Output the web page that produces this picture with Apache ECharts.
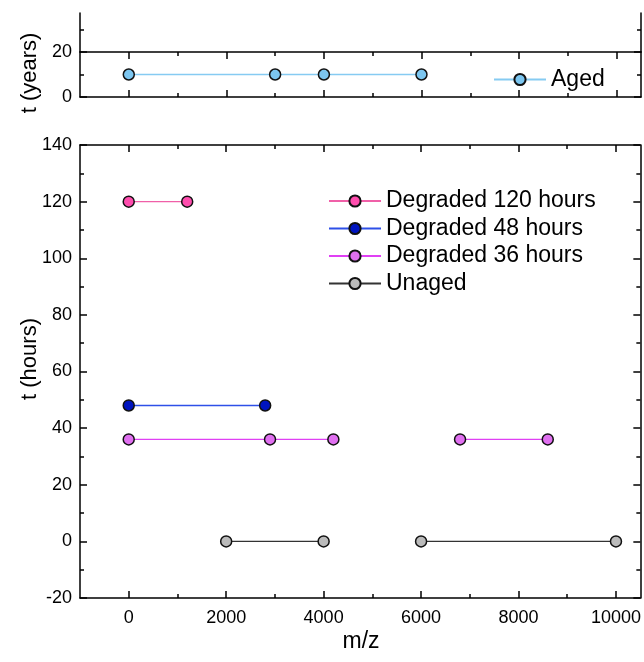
<!DOCTYPE html>
<html>
<head>
<meta charset="utf-8">
<script src="https://cdn.jsdelivr.net/npm/echarts@6/dist/echarts.min.js"></script>
<style>html,body{margin:0;padding:0;background:#fff}#c{width:644px;height:662px}</style>
</head>
<body>
<div id="c"></div>
<script>
// ---- data ----
const xMajorTicks = [0, 2000, 4000, 6000, 8000, 10000];
const xMinorTicks = [1000, 3000, 5000, 7000, 9000];
const agedX = [0, 3000, 4000, 6000];
const agedY = 10;
const deg120X = [0, 1200];
const deg120Y = 120;
const deg48X = [0, 2800];
const deg48Y = 48;
const deg36X = [0, 2900, 4200, null, 6800, 8600];
const deg36Y = 36;
const unagedX = [2000, 4000, null, 6000, 10000];
const unagedY = 0;

const FONT = 'Liberation Sans';
function pts(xs, y) { return xs.map(x => x === null ? ['-', '-'] : [x, y]); }

const axisLine = { show: true, onZero: false, lineStyle: { color: '#000', width: 1.5 } };
function xAx(grid, pos, opts) {
  return Object.assign({
    type: 'value', gridIndex: grid, position: pos, min: -1000, max: 10500,
    axisLine: axisLine, splitLine: { show: false },
    axisTick: { show: true, inside: true, length: 7, customValues: xMajorTicks, lineStyle: { color: '#000', width: 1.5 } },
    axisLabel: { show: false }
  }, opts || {});
}
function xMinor(grid, pos) {
  return {
    type: 'value', gridIndex: grid, position: pos, min: -1000, max: 10500,
    axisLine: { show: false, onZero: false }, splitLine: { show: false },
    axisTick: { show: true, inside: true, length: 4, customValues: xMinorTicks, lineStyle: { color: '#000', width: 1.5 } },
    axisLabel: { show: false }
  };
}

const xAxes = [
  { type: 'value', gridIndex: 0, min: -1000, max: 10500, show: false },
  xAx(1, 'bottom'), xAx(1, 'top'), xMinor(1, 'bottom'), xMinor(1, 'top'),
  xAx(2, 'bottom', {
    axisLabel: { show: true, customValues: xMajorTicks, formatter: v => String(v),
      fontFamily: FONT, fontSize: 18, color: '#000', margin: 11 }
  }),
  xAx(2, 'top'), xMinor(2, 'bottom'), xMinor(2, 'top')
];

function yAx(grid, pos, min, max, labels, extra) {
  return Object.assign({
    type: 'value', gridIndex: grid, position: pos, min: min, max: max, interval: 20,
    axisLine: axisLine, splitLine: { show: false },
    axisTick: { show: true, inside: true, length: 7, lineStyle: { color: '#000', width: 1.5 } },
    minorTick: { show: true, splitNumber: 2, length: 4, lineStyle: { color: '#000', width: 1.5 } },
    axisLabel: labels ? { show: true, fontFamily: FONT, fontSize: 18, color: '#000', margin: 8 } : { show: false }
  }, extra || {});
}
const stubTicks = { show: true, inside: true, length: 4, customValues: [30], lineStyle: { color: '#000', width: 1.5 } };
const yAxes = [
  yAx(0, 'left', 20, 37.3, false, { axisTick: stubTicks, minorTick: { show: false } }),
  yAx(0, 'right', 20, 37.3, false, { axisTick: stubTicks, minorTick: { show: false } }),
  yAx(1, 'left', 0, 20, true),
  yAx(1, 'right', 0, 20, false),
  yAx(2, 'left', -20, 140, true),
  yAx(2, 'right', -20, 140, false)
];

function ser(name, data, fill, line, xi, yi) {
  return {
    name: name, type: 'line', xAxisIndex: xi, yAxisIndex: yi, data: data,
    symbol: 'circle', symbolSize: 11, connectNulls: false, animation: false,
    itemStyle: { color: fill, borderColor: '#111', borderWidth: 1.5 },
    lineStyle: { color: line, width: 1.3 }
  };
}

const series = [
  ser('Aged', pts(agedX, agedY), '#7CC6F0', '#86CBF2', 1, 2),
  ser('Degraded 120 hours', pts(deg120X, deg120Y), '#FF4DAE', '#F060A8', 5, 4),
  ser('Degraded 48 hours', pts(deg48X, deg48Y), '#0014C0', '#2E50E8', 5, 4),
  ser('Degraded 36 hours', pts(deg36X, deg36Y), '#E070F0', '#E040F4', 5, 4),
  ser('Unaged', pts(unagedX, unagedY), '#BBBBBB', '#333333', 5, 4)
];

const legendText = { fontFamily: FONT, fontSize: 23, lineHeight: 23, color: '#000' };
const option = {
  animation: false,
  backgroundColor: '#fff',
  grid: [
    { left: 80, right: 3, top: 13, height: 39 },
    { left: 80, right: 3, top: 52, height: 45 },
    { left: 80, right: 3, top: 145, height: 453 }
  ],
  xAxis: xAxes,
  yAxis: yAxes,
  legend: [
    { data: ['Aged'], left: 493, top: 68, padding: 0, itemWidth: 52, itemHeight: 14, textStyle: legendText },
    { data: ['Degraded 120 hours', 'Degraded 48 hours', 'Degraded 36 hours', 'Unaged'],
      orient: 'vertical', left: 328, top: 189.5, padding: 0, itemWidth: 52, itemHeight: 14, itemGap: 4.5, textStyle: legendText }
  ],
  graphic: [
    { type: 'text', x: 30, y: 73, rotation: Math.PI / 2,
      style: { text: 't (years)', font: '22px "Liberation Sans"', fill: '#000', align: 'center', verticalAlign: 'middle' } },
    { type: 'text', x: 30, y: 359, rotation: Math.PI / 2,
      style: { text: 't (hours)', font: '22px "Liberation Sans"', fill: '#000', align: 'center', verticalAlign: 'middle' } },
    { type: 'text', x: 361, y: 642,
      style: { text: 'm/z', font: '23px "Liberation Sans"', fill: '#000', align: 'center', verticalAlign: 'middle' } }
  ],
  series: series
};
const chart = echarts.init(document.getElementById('c'), null, { renderer: 'canvas' });
chart.setOption(option);
</script>
</body>
</html>
